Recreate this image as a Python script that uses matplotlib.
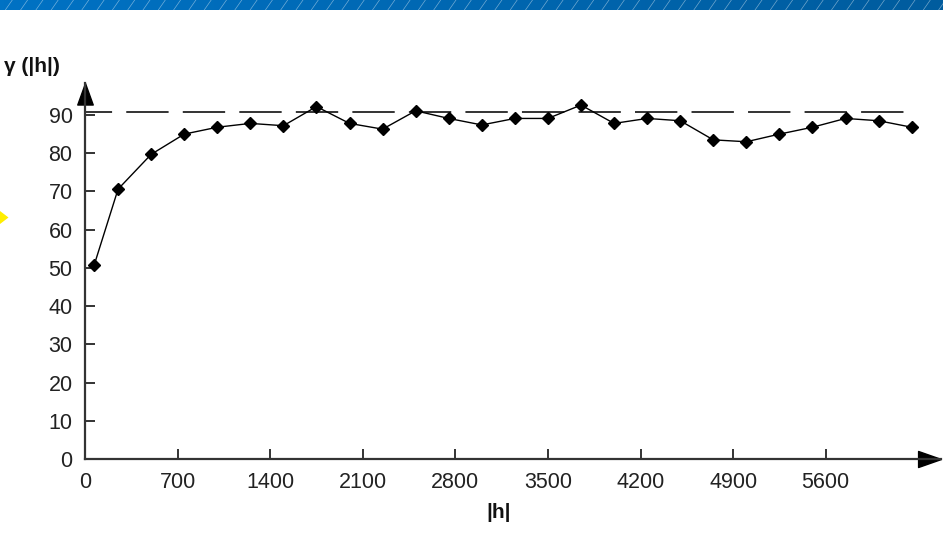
import numpy as np
import matplotlib.pyplot as plt
from matplotlib.colors import LinearSegmentedColormap
from matplotlib.patches import Polygon

# experimental semivariogram: lag distance |h| and gamma(|h|)
lags = [70, 250, 500, 750, 1000, 1250, 1500, 1750, 2000, 2250, 2500, 2750, 3000,
        3250, 3500, 3750, 4000, 4250, 4500, 4750, 5000, 5250, 5500, 5750, 6000, 6250]
gamma = [50.8, 70.6, 79.7, 85.0, 86.8, 87.8, 87.2, 92.2, 87.8, 86.3, 91.1, 89.1, 87.4,
         89.1, 89.1, 92.6, 87.8, 89.1, 88.5, 83.5, 83.0, 85.0, 86.8, 89.1, 88.5, 86.8]
sill = 90.7
sill_end = 6200
xticks = [0, 700, 1400, 2100, 2800, 3500, 4200, 4900, 5600]
yticks = list(range(0, 100, 10))

W, H = 943, 549
fig = plt.figure(figsize=(W / 100, H / 100), dpi=100)
fig.patch.set_facecolor('white')
plt.rcParams['font.family'] = ['Liberation Sans', 'DejaVu Sans']
plt.rcParams['lines.scale_dashes'] = False

axis_col = '#333333'

# blue header strip with diagonal hatching
hdr = fig.add_axes([0, 1 - 10 / H, 1, 10 / H])
grad = LinearSegmentedColormap.from_list('hdr', ['#0072c4', '#005c9e'])
hdr.imshow(np.linspace(0, 1, 256)[None, :], aspect='auto', cmap=grad,
           extent=[0, W, 0, 10])
for x0 in np.arange(-10, W + 10, 15.3):
    hdr.plot([x0, x0 + 7], [0, 10], color='white', lw=0.5, alpha=0.45)
hdr.set_xlim(0, W)
hdr.set_ylim(0, 10)
hdr.axis('off')

# yellow pointer on the left edge
fig.patches.append(Polygon([[0, 1 - 211 / H], [8.5 / W, 1 - 217.5 / H], [0, 1 - 224 / H]],
                           closed=True, transform=fig.transFigure,
                           facecolor='#ffee00', edgecolor='none'))

x_px0, x_px1 = 85, 941
y_px0, y_px1 = 459, 83
ax = fig.add_axes([x_px0 / W, (H - y_px0) / H, (x_px1 - x_px0) / W, (y_px0 - y_px1) / H])
ax.set_xlim(0, (x_px1 - x_px0) / (740.7 / 5600))
ax.set_ylim(0, (y_px0 - y_px1) / (344 / 90))

for s in ['top', 'right']:
    ax.spines[s].set_visible(False)
for s in ['bottom', 'left']:
    ax.spines[s].set_linewidth(1.6)
    ax.spines[s].set_color(axis_col)

# arrow heads at the ends of both axes
right_head = [(0, 0), (-1, 0.35), (-1, -0.35), (0, 0)]
up_head = [(0, 0), (-0.36, -1), (0.36, -1), (0, 0)]
ax.plot(1, 0, marker=right_head, ms=33, color='black', transform=ax.transAxes, clip_on=False)
ax.plot(0, 1, marker=up_head, ms=31, color='black', transform=ax.transAxes, clip_on=False)

# sill
ax.plot([0, sill_end], [sill, sill], color='#111111', lw=1.2,
        linestyle=(11, (30.5, 10.2)))

ax.plot(lags, gamma, color='black', lw=1.0, marker='D', ms=5.9, clip_on=False)

ax.set_xticks(xticks)
ax.set_xticklabels([str(v) for v in xticks])
ax.set_yticks(yticks)
ax.set_yticklabels([str(v) for v in yticks])
ax.tick_params(axis='both', direction='in', length=7, width=1.4, color=axis_col,
               labelsize=15.5, labelcolor='#222222')
ax.tick_params(axis='x', pad=9)
ax.tick_params(axis='y', pad=9)

fig.text(4 / W, 1 - 66 / H, 'γ (|h|)', fontsize=15, fontweight='bold',
         ha='left', va='center', color='#111111')
fig.text(499 / W, 1 - 513 / H, '|h|', fontsize=15, fontweight='bold',
         ha='center', va='center', color='#111111')

fig.savefig('out.png', dpi=100)
